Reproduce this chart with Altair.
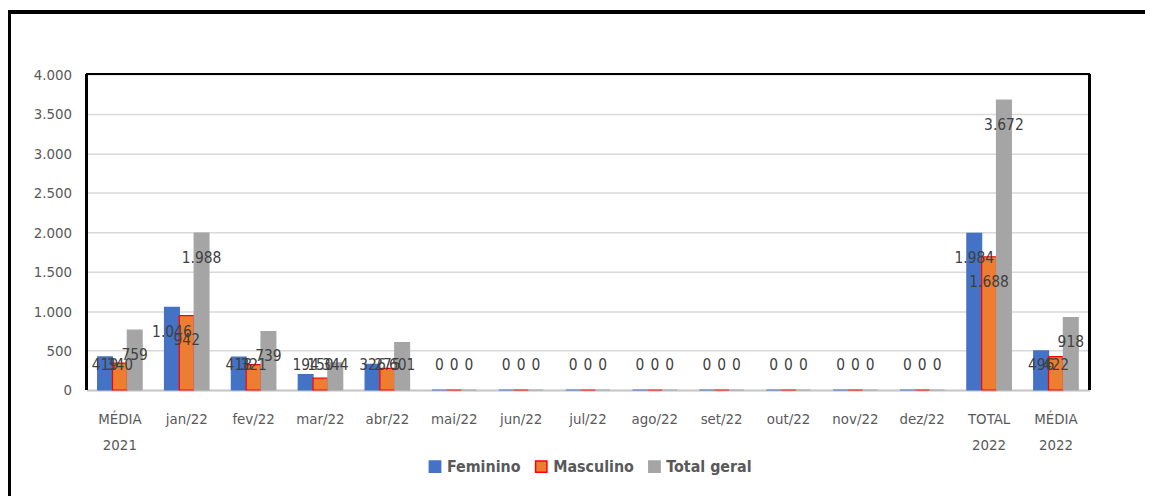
import altair as alt
import pandas as pd

categories = ["MÉDIA 2021", "jan/22", "fev/22", "mar/22", "abr/22", "mai/22", "jun/22",
              "jul/22", "ago/22", "set/22", "out/22", "nov/22", "dez/22", "TOTAL 2022", "MÉDIA 2022"]
feminino = [419, 1046, 418, 194, 326, 0, 0, 0, 0, 0, 0, 0, 0, 1984, 496]
masculino = [340, 942, 321, 150, 275, 0, 0, 0, 0, 0, 0, 0, 0, 1688, 422]
total_geral = [759, 1988, 739, 344, 601, 0, 0, 0, 0, 0, 0, 0, 0, 3672, 918]
series = ["Feminino", "Masculino", "Total geral"]
fills = ["#4472C4", "#ED7D31", "#A5A5A5"]
strokes = ["#4472C4", "#FF0000", "#A5A5A5"]
y_ticks = [0, 500, 1000, 1500, 2000, 2500, 3000, 3500, 4000]

rows = []
for s, vals in zip(series, [feminino, masculino, total_geral]):
    for c, v in zip(categories, vals):
        rows.append({"cat": c, "series": s, "value": v})
df = pd.DataFrame(rows)

FONT = "DejaVu Sans Condensed, Liberation Sans, sans-serif"
W, H = 1010, 318

x = alt.X("cat:N", sort=categories,
          scale=alt.Scale(paddingInner=0.335, paddingOuter=0.1675),
          axis=alt.Axis(title=None, labelExpr="split(datum.label, ' ')", labelAngle=0,
                        labelFont=FONT, labelFontSize=15, labelColor="#595959",
                        labelLineHeight=26, labelPadding=22, ticks=False,
                        domainColor="#C8C8C8", domainWidth=2, grid=False))
xo = alt.XOffset("series:N", sort=series, scale=alt.Scale(paddingInner=0, paddingOuter=0))
y_axis = alt.Axis(title=None, values=y_ticks, domain=False, ticks=False,
                  labelOverlap=False,
                  labelExpr="replace(format(datum.value, ','), ',', '.')",
                  labelFont=FONT, labelFontSize=15, labelColor="#595959",
                  labelPadding=15, gridColor="#D9D9D9", gridWidth=1.5)
y_scale = alt.Scale(domain=[0, 4000])

base = alt.Chart(df)

leg = alt.Legend(title=None, orient="none", direction="horizontal",
                 legendX=343, legendY=387, symbolType="square",
                 symbolSize=130, symbolStrokeWidth=1.5,
                 labelFont=FONT, labelFontSize=16, labelFontWeight="bold",
                 labelColor="#595959", columnPadding=11, labelOffset=4)

bars = base.mark_bar(strokeWidth=1.2).encode(
    x=x, xOffset=xo, y=alt.Y("value:Q", scale=y_scale, axis=y_axis),
    fill=alt.Fill("series:N", sort=series, scale=alt.Scale(domain=series, range=fills), legend=leg),
    stroke=alt.Stroke("series:N", sort=series, scale=alt.Scale(domain=series, range=strokes), legend=leg),
)

labels = base.transform_calculate(
    pos="max(datum.value - 314, 314)",
    lab="replace(format(datum.value, ','), ',', '.')"
).mark_text(font=FONT, fontSize=15.5, color="#404040", baseline="middle", align="center").encode(
    x=x, xOffset=xo, y=alt.Y("pos:Q", scale=y_scale, axis=y_axis), text="lab:N"
)

# plot-area frame (left, top, right) and outer border
frame_left = base.mark_rule(color="black", strokeWidth=1.5).encode(
    x=alt.value(0), y=alt.value(0), y2=alt.value(H))
frame_top = base.mark_rule(color="black", strokeWidth=1.5).encode(
    x=alt.value(0), x2=alt.value(W), y=alt.value(0))
frame_right = base.mark_rule(color="black", strokeWidth=1.5).encode(
    x=alt.value(W), y=alt.value(0), y2=alt.value(H))
outer_top = base.mark_rule(color="black", strokeWidth=3).encode(
    x=alt.value(-79), x2=alt.value(1100), y=alt.value(-63))
outer_left = base.mark_rule(color="black", strokeWidth=3).encode(
    x=alt.value(-78), y=alt.value(-64), y2=alt.value(460))

chart = alt.layer(bars, labels, frame_left, frame_top, frame_right, outer_top, outer_left).properties(
    width=W, height=H,
    autosize=alt.AutoSizeParams(type="none"),
    padding={"left": 79, "top": 65, "right": 56, "bottom": 105},
    background="white",
).configure_view(stroke=None)

chart.save("out.html", embed_options={"renderer": "svg", "actions": False})
